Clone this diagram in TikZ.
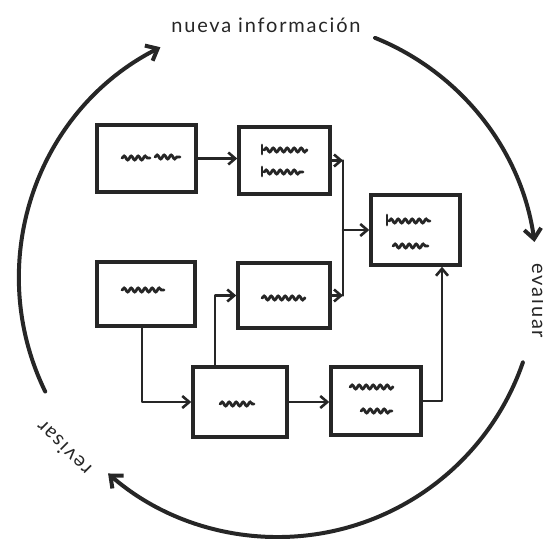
\documentclass[tikz,border=0pt]{standalone}
\usepackage{fontspec}
\newfontfamily\handfont{Lato}[LetterSpace=9]
\usetikzlibrary{arrows.meta,decorations.pathmorphing}
\definecolor{ink}{HTML}{262626}
\tikzset{
  sketchbox/.style={draw=ink, line width=3.5pt, inner sep=0pt, fill=white},
  wire/.style={draw=ink, line width=2.6pt, line cap=round, line join=round},
  tip/.style={-{Straight Barb[length=7pt,width=12pt]}},
  cycloarc/.style={draw=ink, line width=4pt, line cap=round,
    -{Straight Barb[length=10pt,width=17pt]}},
  scribble/.style={draw=ink, line width=2.8pt, line cap=round, decorate,
    decoration={snake, amplitude=2pt, segment length=7pt}},
  tick/.style={draw=ink, line width=2.8pt, line cap=round},
  cyclelabel/.style={text=ink, inner sep=0pt, font=\handfont\fontsize{20}{20}\selectfont},
}
\begin{document}
\begin{tikzpicture}[x=1pt,y=1pt]
\useasboundingbox (0,0) rectangle (543,-538);

% outer cycle
\coordinate (O) at (278,-278);
\draw[cycloarc] (O) ++(206:259pt) arc[start angle=206, end angle=117, radius=259pt];
\draw[cycloarc] (O) ++(68:259pt) arc[start angle=68, end angle=8, radius=259pt];
\draw[cycloarc] (O) ++(-19:259pt) arc[start angle=-19, end angle=-131, radius=259pt];

\node[cyclelabel, anchor=base] (nueva) at (266,-32) {nueva información};
\node[cyclelabel, anchor=base, rotate=-90] (evaluar) at (532,-301) {evaluar};
\node[cyclelabel, anchor=base, rotate=135] (revisar) at (68.5,-443.5) {revisar};

% boxes
\node[sketchbox, minimum width=99pt, minimum height=67pt] (A) at (146.5,-158.5) {};
\node[sketchbox, minimum width=91pt, minimum height=67pt] (B) at (284.5,-160.5) {};
\node[sketchbox, minimum width=89pt, minimum height=70pt] (C) at (415.5,-230) {};
\node[sketchbox, minimum width=98pt, minimum height=64pt] (D) at (146,-294) {};
\node[sketchbox, minimum width=92pt, minimum height=65pt] (E) at (284,-295.5) {};
\node[sketchbox, minimum width=94pt, minimum height=70pt] (F) at (240,-402) {};
\node[sketchbox, minimum width=90pt, minimum height=68pt] (G) at (376,-401) {};

% scribbled contents
\draw[scribble] (122,-158) -- (150,-158);
\draw[scribble] (155,-157) -- (180,-157);
\draw[tick] (262,-145) -- (262,-154);
\draw[scribble] (264,-150) -- (307,-150);
\draw[tick] (262,-167) -- (262,-176);
\draw[scribble] (264,-172) -- (303,-172);
\draw[tick] (387,-215) -- (387,-225);
\draw[scribble] (389,-221) -- (430,-221);
\draw[scribble] (393,-246) -- (428,-246);
\draw[scribble] (122,-290) -- (164,-290);
\draw[scribble] (262,-298) -- (305,-298);
\draw[scribble] (220,-404) -- (254,-404);
\draw[scribble] (350,-387) -- (393,-387);
\draw[scribble] (361,-411) -- (392,-411);

% connectors
\coordinate (bt) at (343,-160.5);
\coordinate (bb) at (343,-295.5);
\coordinate (bm) at (343,-230);
\draw[wire, tip] (A.east) -- (A.east -| B.west);
\draw[wire, tip] (B.east) -- (bt);
\draw[wire, tip] (E.east) -- (bb);
\draw[wire] (bt) -- (bb);
\draw[wire, tip] (bm) -- (C.west);
\draw[wire, tip] ([xshift=-4pt]D.south) |- (F.west);
\draw[wire, tip] ([xshift=-25pt]F.north) |- (E.west);
\draw[wire, tip] (F.east) -- (F.east -| G.west);
\draw[wire, tip] (G.east) -| ([xshift=26.5pt]C.south);
\end{tikzpicture}
\end{document}
